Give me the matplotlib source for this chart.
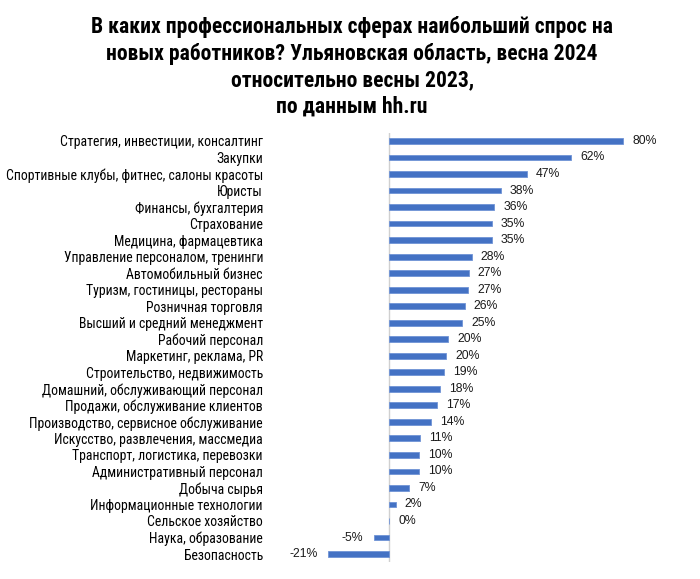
import matplotlib
matplotlib.use("Agg")
import matplotlib.pyplot as plt

categories = [
    "Стратегия, инвестиции, консалтинг",
    "Закупки",
    "Спортивные клубы, фитнес, салоны красоты",
    "Юристы",
    "Финансы, бухгалтерия",
    "Страхование",
    "Медицина, фармацевтика",
    "Управление персоналом, тренинги",
    "Автомобильный бизнес",
    "Туризм, гостиницы, рестораны",
    "Розничная торговля",
    "Высший и средний менеджмент",
    "Рабочий персонал",
    "Маркетинг, реклама, PR",
    "Строительство, недвижимость",
    "Домашний, обслуживающий персонал",
    "Продажи, обслуживание клиентов",
    "Производство, сервисное обслуживание",
    "Искусство, развлечения, массмедиа",
    "Транспорт, логистика, перевозки",
    "Административный персонал",
    "Добыча сырья",
    "Информационные технологии",
    "Сельское хозяйство",
    "Наука, образование",
    "Безопасность",
]
values = [80.2, 62.3, 47.3, 38.2, 36.1, 35.2, 35.2, 28.3, 27.3, 27.1, 25.9, 25.1,
          20.2, 19.6, 18.7, 17.6, 16.6, 14.3, 10.6, 10.4, 10.2, 7.0, 2.3, 0.0,
          -5.2, -20.9]
value_labels = ["80%", "62%", "47%", "38%", "36%", "35%", "35%", "28%", "27%", "27%",
                "26%", "25%", "20%", "20%", "19%", "18%", "17%", "14%", "11%", "10%",
                "10%", "7%", "2%", "0%", "-5%", "-21%"]
title = ("В каких профессиональных сферах наибольший спрос на\n"
         "новых работников? Ульяновская область, весна 2024\n"
         "относительно весны 2023,\n"
         "по данным hh.ru")

narrow = ["Roboto Condensed", "DejaVu Sans"]
regular = ["Liberation Sans", "DejaVu Sans"]

W, H = 700, 579
fig = plt.figure(figsize=(W / 100, H / 100), dpi=100)

xmin, xmax = -30, 90
ppu = 2.92
zero_px = 389
left_px = zero_px + xmin * ppu
right_px = zero_px + xmax * ppu
top_px, bot_px = 132.7, 562.3
ax = fig.add_axes([left_px / W, 1 - bot_px / H, (right_px - left_px) / W, (bot_px - top_px) / H])

n = len(categories)
ypos = list(range(n))
ax.barh(ypos, values, height=0.35, color="#4472C4", edgecolor="#6f93d6", linewidth=0.6, zorder=2)
ax.set_xlim(xmin, xmax)
ax.set_ylim(n - 0.5, -0.5)

for sp in ax.spines.values():
    sp.set_visible(False)
ax.axvline(0, color="#d0d0d0", linewidth=1.0, zorder=1)
ax.set_xticks([])
ax.set_yticks(ypos)
ax.set_yticklabels(categories, fontsize=9.9, family=narrow, color="#000000")
ax.tick_params(axis="y", length=0, pad=(left_px - 263) * 72 / 100)

for y, v, lab in zip(ypos, values, value_labels):
    if v < 0:
        ax.annotate(lab, (v, y), xytext=(-7.5, 0), textcoords="offset points",
                    ha="right", va="center", fontsize=8.8, family=regular, color="#1a1a1a")
    else:
        ax.annotate(lab, (v, y), xytext=(6.5, 0), textcoords="offset points",
                    ha="left", va="center", fontsize=8.8, family=regular, color="#1a1a1a")

fig.text(0.503, 1 - 16 / H, title, ha="center", va="top", fontsize=15.6, fontweight="bold",
         family=narrow, linespacing=1.27, color="#000000")

fig.savefig("out.png", dpi=100, facecolor="white")
